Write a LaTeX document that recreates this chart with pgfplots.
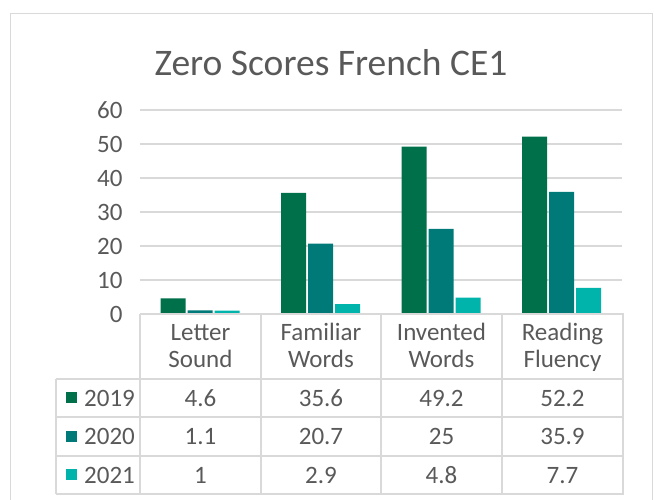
\documentclass[border=0pt]{standalone}
\usepackage{fontspec}
\setmainfont{Carlito}
\usepackage{pgfplots}
\pgfplotsset{compat=1.18}
\definecolor{cA}{HTML}{00704A}
\definecolor{cB}{HTML}{007A78}
\definecolor{cC}{HTML}{00B4AC}
\definecolor{txt}{HTML}{595959}
\definecolor{grd}{HTML}{D9D9D9}
\newcommand{\tf}{\fontsize{25}{28}\selectfont}
\begin{document}
\begin{tikzpicture}[x=1pt,y=1pt]
\useasboundingbox (-140,-186) rectangle (514,314);
% outer chart border
\draw[grd, line width=1pt] (-129,-200) -- (-129,300) -- (512,300) -- (512,-200);
\begin{axis}[
  at={(0,0)}, anchor=south west,
  scale only axis, width=482pt, height=204pt,
  xmin=-0.5, xmax=3.5, ymin=0, ymax=60,
  ybar=2pt, bar width=25pt,
  axis line style={draw=none},
  xtick=\empty,
  ytick={0,10,...,60},
  major tick length=0pt,
  ymajorgrids, major grid style={grd, line width=1.3pt},
  yticklabel style={font=\tf, text=txt, xshift=-14pt},
  /pgf/number format/assume math mode=true,
  clip=false,
]
\addplot[fill=cA, draw=none] coordinates {(0,4.6) (1,35.6) (2,49.2) (3,52.2)};
\addplot[fill=cB, draw=none] coordinates {(0,1.1) (1,20.7) (2,25) (3,35.9)};
\addplot[fill=cC, draw=none] coordinates {(0,1) (1,2.9) (2,4.8) (3,7.7)};
\end{axis}
% title
\node[anchor=base, text=txt, font=\fontsize{37.5}{40}\selectfont] at (191,238) {Zero Scores French CE1};
% table lines
\begin{scope}[grd, line width=1.5pt]
\draw (0,0) -- (484,0);
\draw (-84,-65) -- (484,-65);
\draw (-84,-103) -- (484,-103);
\draw (-84,-142) -- (484,-142);
\draw (-84,-180) -- (484,-180);
\draw (-84,-65) -- (-84,-180);
\foreach \x in {0,121,241,362,483} \draw (\x,0) -- (\x,-180);
\end{scope}
% header
\begin{scope}[every node/.style={anchor=base, text=txt, font=\tf, inner sep=0pt}]
\node at (60.5,-27) {Letter};   \node at (60.5,-54) {Sound};
\node at (181,-27) {Familiar};  \node at (181,-54) {Words};
\node at (301.5,-27) {Invented};\node at (301.5,-54) {Words};
\node at (422.5,-27) {Reading}; \node at (422.5,-54) {Fluency};
% values
\node at (60.5,-92.5) {4.6};  \node at (181,-92.5) {35.6}; \node at (301.5,-92.5) {49.2}; \node at (422.5,-92.5) {52.2};
\node at (60.5,-131) {1.1};  \node at (181,-131) {20.7}; \node at (301.5,-131) {25}; \node at (422.5,-131) {35.9};
\node at (60.5,-169.5) {1};  \node at (181,-169.5) {2.9}; \node at (301.5,-169.5) {4.8}; \node at (422.5,-169.5) {7.7};
% legend labels
\node[anchor=base west] at (-56,-92.5) {2019};
\node[anchor=base west] at (-56,-131) {2020};
\node[anchor=base west] at (-56,-169.5) {2021};
\end{scope}
\fill[cA] (-74,-89.5) rectangle (-63,-78.5);
\fill[cB] (-74,-128) rectangle (-63,-117);
\fill[cC] (-74,-166.5) rectangle (-63,-155.5);
\end{tikzpicture}
\end{document}
